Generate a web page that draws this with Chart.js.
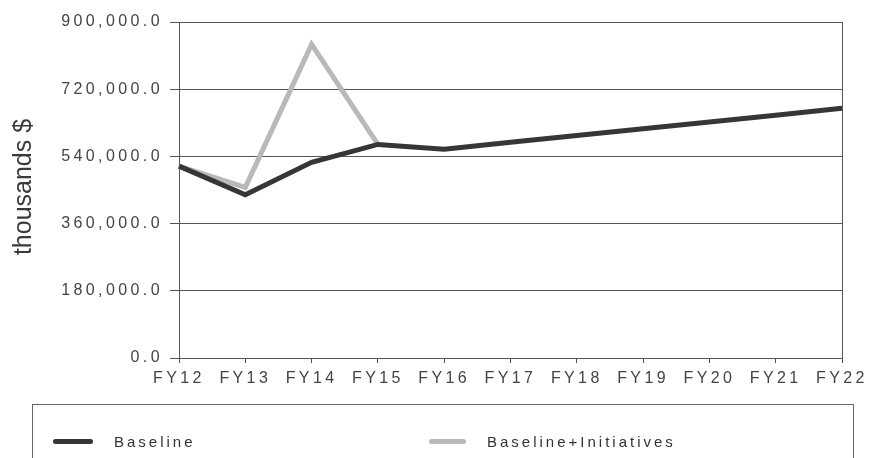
<!DOCTYPE html>
<html>
<head>
<meta charset="utf-8">
<title>Baseline vs Baseline+Initiatives</title>
<script src="https://cdn.jsdelivr.net/npm/chart.js@4/dist/chart.umd.min.js"></script>
<style>
  html, body { margin: 0; padding: 0; background: #fff; }
  #wrap { position: relative; width: 872px; height: 458px; overflow: hidden; }
  #chart { position: absolute; left: 0; top: 0; }
  .legend-box {
    position: absolute; left: 32px; top: 404px; width: 822px; height: 80px;
    border: 1px solid #666; box-sizing: border-box;
  }
  .legend-item {
    position: absolute; top: 26px; height: 20px; display: flex; align-items: center;
    font-family: "Liberation Sans", Arial, sans-serif; font-size: 15px;
    letter-spacing: 3px; color: #333;
  }
  .legend-swatch { display: inline-block; height: 5px; border-radius: 3px; margin-right: 21px; }
</style>
</head>
<body>
<div id="wrap">
  <canvas id="chart" width="872" height="458"></canvas>
  <div class="legend-box" id="legend"></div>
</div>
<script>
// Fiscal years on the category axis
const years = ['FY12', 'FY13', 'FY14', 'FY15', 'FY16', 'FY17', 'FY18', 'FY19', 'FY20', 'FY21', 'FY22'];

// Spending in thousands of dollars
const baseline = [514000, 437000, 524000, 572000, 559000, 578000, 596000, 614000, 632000, 650000, 669000];
const withInitiatives = [514000, 457000, 840000, 572000, null, null, null, null, null, null, null];

// Y axis ticks
const yTicks = [0, 180000, 360000, 540000, 720000, 900000];

const FONT = '"Liberation Sans", Arial, sans-serif';
const AXIS_GREY = '#555';

function formatTick(v) {
    return Number(v).toLocaleString('en-US', { minimumFractionDigits: 1, maximumFractionDigits: 1 });
}

// Spaced-out tick lettering, switched off again once the chart is painted
const spacedText = {
    id: 'spacedText',
    beforeDraw(chart) { chart.ctx.letterSpacing = '3.4px'; },
    afterDraw(chart) { chart.ctx.letterSpacing = '0px'; }
};

// Rotated "thousands $" title drawn without letter spacing
const axisTitle = {
    id: 'axisTitle',
    afterDraw(chart) {
        const { ctx, chartArea } = chart;
        const y = chart.scales.y;
        ctx.save();
        ctx.letterSpacing = '0px';
        ctx.translate(y.left + 31, (chartArea.top + chartArea.bottom) / 2 - 3);
        ctx.rotate(-Math.PI / 2);
        ctx.font = '25px ' + FONT;
        ctx.fillStyle = '#3a3a3a';
        ctx.textAlign = 'center';
        ctx.textBaseline = 'alphabetic';
        ctx.fillText('thousands $', 0, 0);
        ctx.restore();
    }
};

const chart = new Chart(document.getElementById('chart'), {
    type: 'line',
    data: {
        labels: years,
        datasets: [
            {
                label: 'Baseline',
                data: baseline,
                borderColor: '#363636',
                backgroundColor: '#363636',
                borderWidth: 5,
                pointRadius: 0,
                tension: 0
            },
            {
                label: 'Baseline+Initiatives',
                data: withInitiatives,
                borderColor: '#b9b9b9',
                backgroundColor: '#b9b9b9',
                borderWidth: 5,
                pointRadius: 0,
                tension: 0,
                spanGaps: false
            }
        ]
    },
    options: {
        responsive: false,
        animation: false,
        layout: { padding: { top: 22, right: 30, left: 0, bottom: 0 } },
        plugins: {
            legend: { display: false },
            tooltip: { enabled: false }
        },
        scales: {
            x: {
                offset: false,
                grid: {
                    drawOnChartArea: true,
                    color: ctx => ctx.index === years.length - 1 ? AXIS_GREY : 'rgba(0,0,0,0)',
                    tickColor: AXIS_GREY,
                    tickLength: 5,
                    lineWidth: 1
                },
                border: { display: true, color: AXIS_GREY },
                ticks: {
                    color: '#444',
                    font: { family: FONT, size: 16 },
                    padding: 6,
                    maxRotation: 0,
                    autoSkip: false
                },
                afterFit: scale => { scale.height = 100; }
            },
            y: {
                min: 0,
                max: 900000,
                afterBuildTicks: scale => { scale.ticks = yTicks.map(v => ({ value: v })); },
                grid: {
                    color: AXIS_GREY,
                    tickColor: AXIS_GREY,
                    tickLength: 9,
                    lineWidth: 1
                },
                border: { display: true, color: AXIS_GREY },
                ticks: {
                    color: '#444',
                    font: { family: FONT, size: 16 },
                    padding: 7,
                    callback: v => formatTick(v)
                },
                afterFit: scale => { scale.width = 179; }
            }
        }
    },
    plugins: [spacedText, axisTitle]
});

// Legend built from the dataset styles
const legendEl = document.getElementById('legend');
const legendLeft = [20, 396];
const swatchWidth = [40, 37];
chart.data.datasets.forEach((ds, i) => {
    const item = document.createElement('div');
    item.className = 'legend-item';
    item.style.left = legendLeft[i] + 'px';
    item.innerHTML = `<span class="legend-swatch" style="width:${swatchWidth[i]}px;background:${ds.borderColor}"></span>${ds.label}`;
    legendEl.appendChild(item);
});
</script>
</body>
</html>
